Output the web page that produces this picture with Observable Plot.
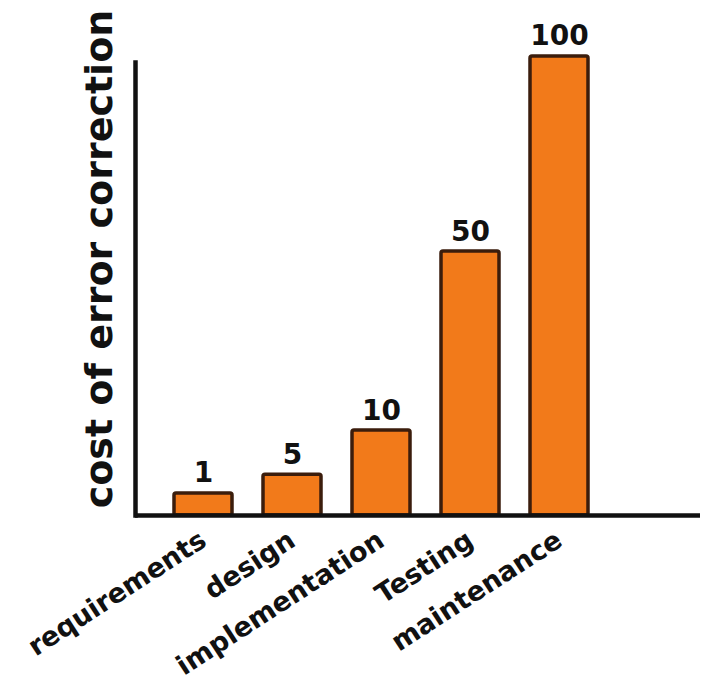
<!DOCTYPE html>
<html>
<head>
<meta charset="utf-8">
<script src="https://cdn.jsdelivr.net/npm/d3@7"></script>
<script src="https://cdn.jsdelivr.net/npm/@observablehq/plot@0.6"></script>
<style>
  html, body { margin: 0; padding: 0; background: #fff; }
  #chart svg { display: block; }
</style>
</head>
<body>
<div id="chart"></div>
<script>
// Phases of development (x categories)
const phases = ["requirements", "design", "implementation", "Testing", "maintenance"];
// Relative cost of error correction, as written above each bar
const costLabels = [1, 5, 10, 50, 100];
// Bar heights as drawn (sketch, not to scale), relative to the tallest bar = 100
const drawnHeights = [4.8, 8.9, 18.5, 57.5, 100];

const data = phases.map((p, i) => ({phase: p, cost: costLabels[i], h: drawnHeights[i]}));

const font = "'DejaVu Sans', 'Noto Sans', sans-serif";

const chart = Plot.plot({
  width: 702,
  height: 687,
  marginLeft: 135,
  marginRight: 2,
  marginTop: 62,
  marginBottom: 172,
  style: {fontFamily: font, background: "#fff"},
  x: {domain: phases, range: [141, 620], paddingInner: 0.35, paddingOuter: 0.35, label: null},
  y: {domain: [0, 100], range: [515, 56], label: null},
  marks: [
    Plot.barY(data, {x: "phase", y: "h", fill: "#F27A1A", stroke: "#3b1d0c", strokeWidth: 3.5, rx: 2}),
    Plot.text(data, {x: "phase", y: "h", text: d => String(d.cost), dy: -20, fontSize: 28, fontWeight: "bold", fill: "#111"}),
    Plot.frame({anchor: "left", stroke: "#111", strokeWidth: 4.5}),
    Plot.ruleY([0], {stroke: "#111", strokeWidth: 4.5}),
    Plot.axisX({tickSize: 0, tickRotate: -33, tickPadding: 22, fontSize: 27, fill: "#111", label: null, fontWeight: "bold"}),
    Plot.axisY({ticks: [], label: null}),
    Plot.text(["cost of error correction"], {frameAnchor: "left", text: d => d, rotate: -90, dx: -36, dy: -30, fontSize: 38, fontWeight: "bold", fill: "#111", textAnchor: "middle"})
  ]
});

document.getElementById("chart").appendChild(chart);
</script>
</body>
</html>
